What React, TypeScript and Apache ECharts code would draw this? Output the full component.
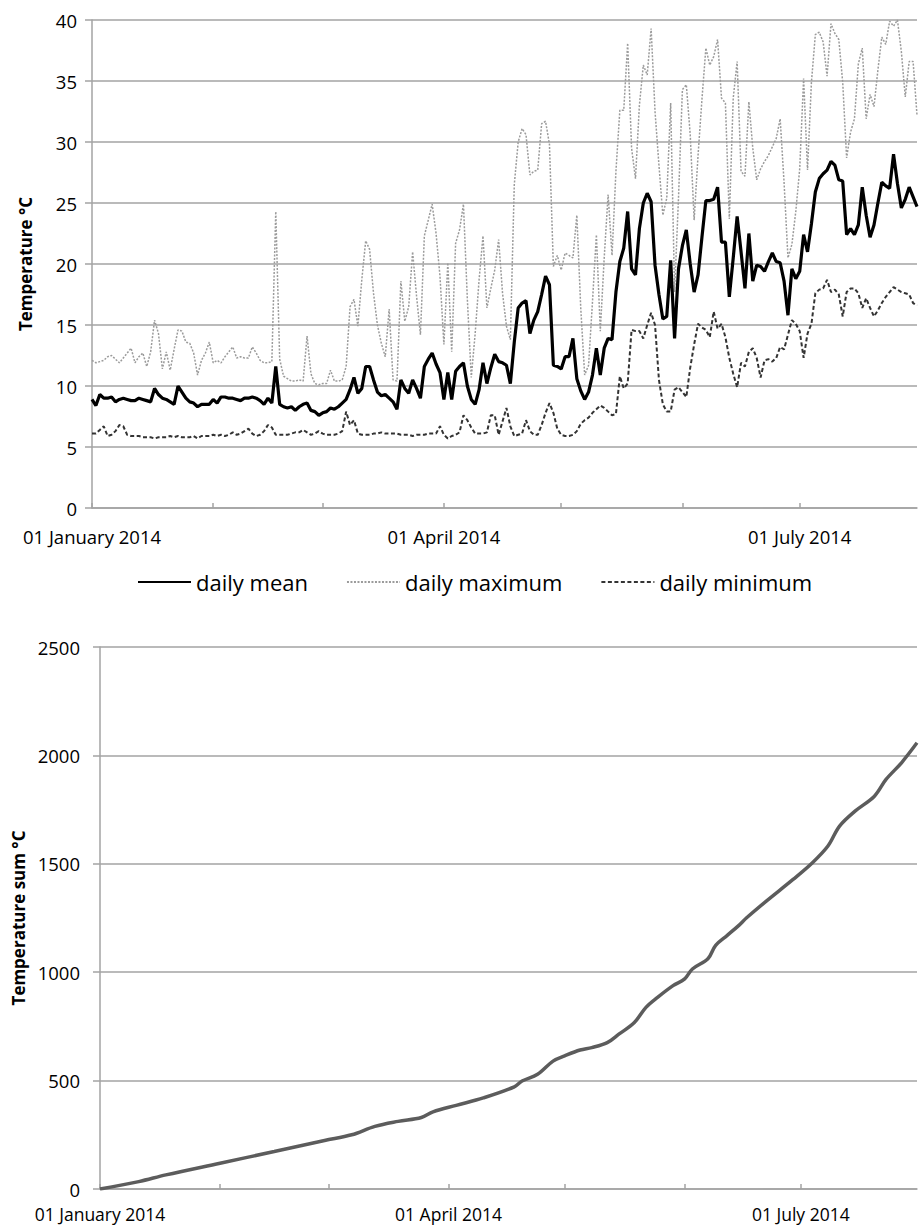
import { useEffect, useRef } from "react";
import * as echarts from "echarts";

// Day index 0 = 01 January 2014, last index 211 = 31 July 2014
const LAST_DAY = 211;
const MONTH_TICK_DAYS = [0, 31, 59, 90, 120, 151, 181];
const LABEL_DAYS = [0, 90, 181];
const LABEL_TEXTS = ["01 January 2014", "01 April 2014", "01 July 2014"];

const DAILY_MEAN = [
  8.9, 8.4, 9.3, 9.0, 9.0, 9.1, 8.7, 8.9, 9.0, 8.9,
  8.8, 8.8, 9.0, 8.9, 8.8, 8.7, 9.8, 9.3, 9.0, 8.9,
  8.7, 8.5, 10.0, 9.5, 9.0, 8.7, 8.6, 8.3, 8.5, 8.5,
  8.5, 8.9, 8.6, 9.1, 9.1, 9.0, 9.0, 8.9, 8.8, 9.0,
  9.0, 9.1, 9.0, 8.8, 8.5, 9.0, 8.6, 11.6, 8.5, 8.3,
  8.2, 8.3, 8.0, 8.3, 8.5, 8.6, 8.0, 7.9, 7.6, 7.8,
  7.9, 8.2, 8.1, 8.3, 8.6, 8.9, 9.7, 10.7, 9.4, 9.8,
  11.6, 11.6, 10.5, 9.5, 9.2, 9.3, 9.0, 8.7, 8.1, 10.5,
  9.8, 9.4, 10.5, 9.8, 9.0, 11.6, 12.2, 12.7, 11.8, 11.1,
  8.9, 11.1, 8.9, 11.2, 11.6, 11.9, 10.0, 8.9, 8.5, 9.7,
  11.9, 10.2, 11.5, 12.6, 12.0, 11.9, 11.7, 10.2, 13.6, 16.4,
  16.8, 17.0, 14.3, 15.4, 16.1, 17.5, 19.0, 18.3, 11.7, 11.6,
  11.4, 12.4, 12.4, 13.9, 10.6, 9.6, 8.9, 9.5, 10.9, 13.1,
  10.9, 13.1, 13.9, 13.8, 17.7, 20.2, 21.3, 24.3, 19.6, 19.1,
  22.9, 25.0, 25.8, 25.1, 19.9, 17.5, 15.5, 15.7, 20.3, 13.9,
  19.6, 21.5, 22.8, 20.0, 17.7, 19.1, 22.2, 25.2, 25.2, 25.3,
  26.3, 21.8, 21.8, 17.3, 20.5, 23.9, 21.0, 18.0, 22.5, 18.6,
  19.9, 19.8, 19.4, 20.2, 20.9, 20.2, 20.1, 18.6, 15.8, 19.6,
  18.8, 19.4, 22.4, 21.0, 23.3, 25.9, 27.0, 27.4, 27.7, 28.4,
  28.1, 26.9, 26.8, 22.4, 22.9, 22.4, 23.2, 26.3, 24.0, 22.2,
  23.2, 25.0, 26.7, 26.4, 26.2, 29.0, 26.6, 24.6, 25.3, 26.3,
  25.5, 24.7,
];

const DAILY_MAX = [
  12.1, 11.9, 12.0, 12.1, 12.4, 12.5, 12.2, 11.9, 12.3, 12.7,
  13.1, 11.9, 12.4, 12.7, 11.6, 12.8, 15.4, 14.3, 11.4, 12.8,
  11.3, 13.0, 14.6, 14.5, 13.6, 13.5, 12.7, 10.9, 12.1, 12.7,
  13.6, 11.9, 12.1, 11.9, 12.4, 12.8, 13.2, 12.3, 12.4, 12.3,
  12.3, 13.2, 12.7, 12.1, 11.9, 11.9, 12.0, 24.3, 12.2, 10.8,
  10.6, 10.4, 10.4, 10.5, 10.4, 14.1, 11.0, 10.2, 10.1, 10.2,
  10.2, 11.3, 10.4, 10.4, 10.5, 11.6, 16.5, 17.1, 14.9, 18.7,
  21.9, 21.2, 17.6, 15.0, 13.5, 12.4, 16.3, 10.5, 10.4, 18.6,
  15.3, 16.5, 21.0, 17.4, 14.2, 22.3, 23.6, 24.9, 22.5, 19.0,
  13.4, 20.1, 12.8, 21.7, 22.8, 24.9, 17.1, 10.7, 14.3, 18.7,
  22.3, 16.4, 18.0, 19.5, 22.0, 17.6, 14.9, 13.8, 26.5, 30.0,
  31.1, 30.6, 27.3, 27.6, 27.7, 31.5, 31.7, 29.8, 19.8, 20.7,
  19.5, 20.9, 20.7, 20.5, 24.0, 16.4, 10.9, 11.7, 16.9, 22.4,
  14.5, 20.5, 25.7, 20.7, 27.6, 32.6, 32.6, 38.1, 29.5, 27.0,
  33.0, 36.3, 35.5, 39.3, 32.5, 28.1, 24.0, 25.4, 33.2, 17.7,
  25.4, 34.3, 34.7, 30.6, 23.6, 28.9, 33.5, 37.7, 36.3, 37.0,
  38.4, 33.6, 33.2, 23.7, 33.6, 36.6, 27.6, 27.2, 33.3, 29.5,
  26.9, 27.8, 28.4, 28.9, 29.6, 30.3, 31.9, 26.7, 20.5, 21.6,
  24.3, 27.8, 35.2, 27.7, 34.9, 38.8, 39.0, 38.2, 35.4, 39.7,
  38.9, 38.4, 34.9, 28.7, 30.8, 31.9, 36.4, 37.7, 31.9, 33.9,
  32.9, 35.9, 38.6, 38.0, 39.9, 39.5, 40.0, 37.4, 33.7, 36.6,
  36.6, 32.2,
];

const DAILY_MIN = [
  6.1, 6.1, 6.4, 6.7, 5.9, 6.0, 6.3, 6.8, 6.7, 6.0,
  5.9, 5.9, 5.9, 5.8, 5.8, 5.8, 5.7, 5.8, 5.8, 5.8,
  5.9, 5.8, 5.9, 5.8, 5.8, 5.8, 5.9, 5.7, 5.9, 5.9,
  5.9, 6.0, 5.9, 6.0, 5.9, 6.0, 6.2, 6.0, 6.1, 6.3,
  6.5, 6.1, 5.9, 6.0, 6.3, 6.8, 6.6, 6.0, 6.0, 6.0,
  6.0, 6.1, 6.2, 6.2, 6.4, 6.2, 6.0, 6.1, 6.3, 6.1,
  6.0, 6.0, 6.0, 6.1, 6.3, 7.9, 6.8, 7.2, 6.1, 6.0,
  6.0, 6.0, 6.1, 6.1, 6.2, 6.1, 6.1, 6.1, 6.1, 6.0,
  6.0, 6.0, 5.9, 6.0, 6.0, 6.0, 6.1, 6.1, 6.1, 6.7,
  6.0, 5.7, 5.9, 6.0, 6.2, 7.6, 7.2, 6.6, 6.1, 6.1,
  6.1, 6.2, 7.6, 7.6, 6.0, 7.1, 8.2, 6.7, 5.9, 6.0,
  6.1, 7.2, 6.3, 6.0, 6.0, 6.8, 7.8, 8.6, 7.8, 6.5,
  6.0, 5.9, 5.9, 6.0, 6.3, 6.9, 7.2, 7.4, 7.8, 8.1,
  8.4, 8.2, 7.9, 7.6, 7.7, 10.8, 9.8, 10.2, 14.6, 14.5,
  14.5, 13.9, 15.0, 16.0, 15.0, 10.5, 8.5, 7.9, 7.9, 9.7,
  9.9, 9.5, 9.1, 11.5, 13.4, 15.1, 14.8, 14.6, 14.0, 16.1,
  14.7, 15.1, 14.0, 12.3, 11.0, 9.9, 11.9, 11.6, 12.8, 13.1,
  12.3, 10.7, 12.1, 12.2, 12.0, 12.3, 13.2, 13.0, 14.2, 15.4,
  15.1, 14.5, 12.3, 14.3, 15.1, 17.6, 17.9, 18.0, 18.7, 17.7,
  17.9, 17.5, 15.7, 17.7, 18.0, 18.0, 17.6, 16.4, 17.2, 16.4,
  15.7, 16.2, 16.8, 17.3, 17.7, 18.1, 17.9, 17.7, 17.6, 17.5,
  16.8, 16.6,
];

// Temperature sum
const SUM_DAYS = [
  0, 10, 17, 31, 45, 58, 65, 71, 77, 83, 86, 92, 99, 107, 109, 113, 117, 120,
  124, 127, 131, 134, 138, 141, 144, 148, 151, 153, 157, 159, 162, 165, 167,
  172, 179, 184, 188, 191, 195, 200, 203, 207, 211,
];
const SUM_VALUES = [
  0, 34, 65, 119, 173, 224, 250, 289, 312, 330, 356, 386, 420, 471, 498, 529,
  590, 614, 641, 652, 675, 714, 768, 838, 884, 938, 969, 1015, 1062, 1124,
  1170, 1216, 1251, 1327, 1428, 1505, 1582, 1674, 1743, 1812, 1889, 1966, 2058,
];

const FONT = '"Open Sans", sans-serif';
const AXIS_GRAY = "#a3a3a3";

function xAxisFor(gridIndex: number, labelMargin: number, labelSize: number) {
  return {
    type: "value",
    gridIndex,
    min: 0,
    max: LAST_DAY,
    axisLine: { show: true, lineStyle: { color: AXIS_GRAY, width: 1.5 } },
    axisTick: {
      show: true,
      inside: true,
      length: 5,
      customValues: MONTH_TICK_DAYS,
      lineStyle: { color: AXIS_GRAY, width: 1.5 },
    },
    axisLabel: {
      customValues: LABEL_DAYS,
      formatter: (v: number) => {
        const i = LABEL_DAYS.indexOf(Math.round(v));
        return i >= 0 ? LABEL_TEXTS[i] : "";
      },
      fontFamily: FONT,
      fontSize: labelSize,
      lineHeight: labelSize + 2,
      color: "#000",
      margin: labelMargin,
    },
    splitLine: { show: false },
  };
}

function yAxisFor(gridIndex: number, max: number, interval: number, name: string, nameGap: number, margin: number) {
  return {
    type: "value",
    gridIndex,
    min: 0,
    max,
    interval,
    name,
    nameLocation: "middle",
    nameRotate: 90,
    nameGap,
    nameTextStyle: { fontFamily: FONT, fontWeight: "bold", fontSize: 17, color: "#000" },
    axisLine: { show: true, lineStyle: { color: AXIS_GRAY, width: 1.5 } },
    axisTick: { show: true, length: 7, lineStyle: { color: AXIS_GRAY, width: 1.5 } },
    axisLabel: {
      fontFamily: FONT,
      fontSize: 18.5,
      lineHeight: 19,
      color: "#000",
      margin,
      formatter: (v: number) => String(v),
    },
    splitLine: { show: true, lineStyle: { color: AXIS_GRAY, width: 1.5 } },
  };
}

export default function App() {
  const ref = useRef<HTMLDivElement>(null);
  useEffect(() => {
    if (!ref.current) return;
    const chart = echarts.init(ref.current, null, { renderer: "svg" });
    const option: any = {
      animation: false,
      backgroundColor: "#fff",
      textStyle: { fontFamily: FONT },
      grid: [
        { left: 92, top: 20, width: 825, height: 488 },
        { left: 100, top: 647, width: 817, height: 542 },
      ],
      xAxis: [xAxisFor(0, 18, 18.5), xAxisFor(1, 15, 17.5)],
      yAxis: [
        yAxisFor(0, 40, 5, "Temperature °C", 58, 15),
        yAxisFor(1, 2500, 500, "Temperature sum °C", 65, 20),
      ],
      legend: {
        data: ["daily mean", "daily maximum", "daily minimum"],
        left: 132,
        top: 566,
        itemWidth: 53,
        itemHeight: 14,
        itemGap: 38,
        itemStyle: { opacity: 0 },
        textStyle: { fontFamily: FONT, fontSize: 22, color: "#000" },
      },
      series: [
        {
          name: "daily maximum",
          type: "line",
          xAxisIndex: 0,
          yAxisIndex: 0,
          data: DAILY_MAX.map((v, i) => [i, v]),
          symbol: "none",
          z: 1,
          itemStyle: { color: "#9b9b9b" },
          lineStyle: { color: "#9b9b9b", width: 1.5, type: [2, 1.5] },
        },
        {
          name: "daily minimum",
          type: "line",
          xAxisIndex: 0,
          yAxisIndex: 0,
          data: DAILY_MIN.map((v, i) => [i, v]),
          symbol: "none",
          z: 2,
          itemStyle: { color: "#333" },
          lineStyle: { color: "#333", width: 2, type: [4, 2.5] },
        },
        {
          name: "daily mean",
          type: "line",
          xAxisIndex: 0,
          yAxisIndex: 0,
          data: DAILY_MEAN.map((v, i) => [i, v]),
          symbol: "none",
          z: 3,
          itemStyle: { color: "#000" },
          lineStyle: { color: "#000", width: 3.2 },
        },
        {
          name: "Temperature sum",
          type: "line",
          xAxisIndex: 1,
          yAxisIndex: 1,
          data: SUM_DAYS.map((d, i) => [d, SUM_VALUES[i]]),
          symbol: "none",
          smooth: 0.35,
          itemStyle: { color: "#5c5c5c" },
          lineStyle: { color: "#5c5c5c", width: 3.5 },
        },
      ],
    };
    chart.setOption(option);
    return () => chart.dispose();
  }, []);
  return (
    <div
      ref={ref}
      style={{ position: "absolute", left: 0, top: 0, width: 920, height: 1226, background: "#fff" }}
    />
  );
}
